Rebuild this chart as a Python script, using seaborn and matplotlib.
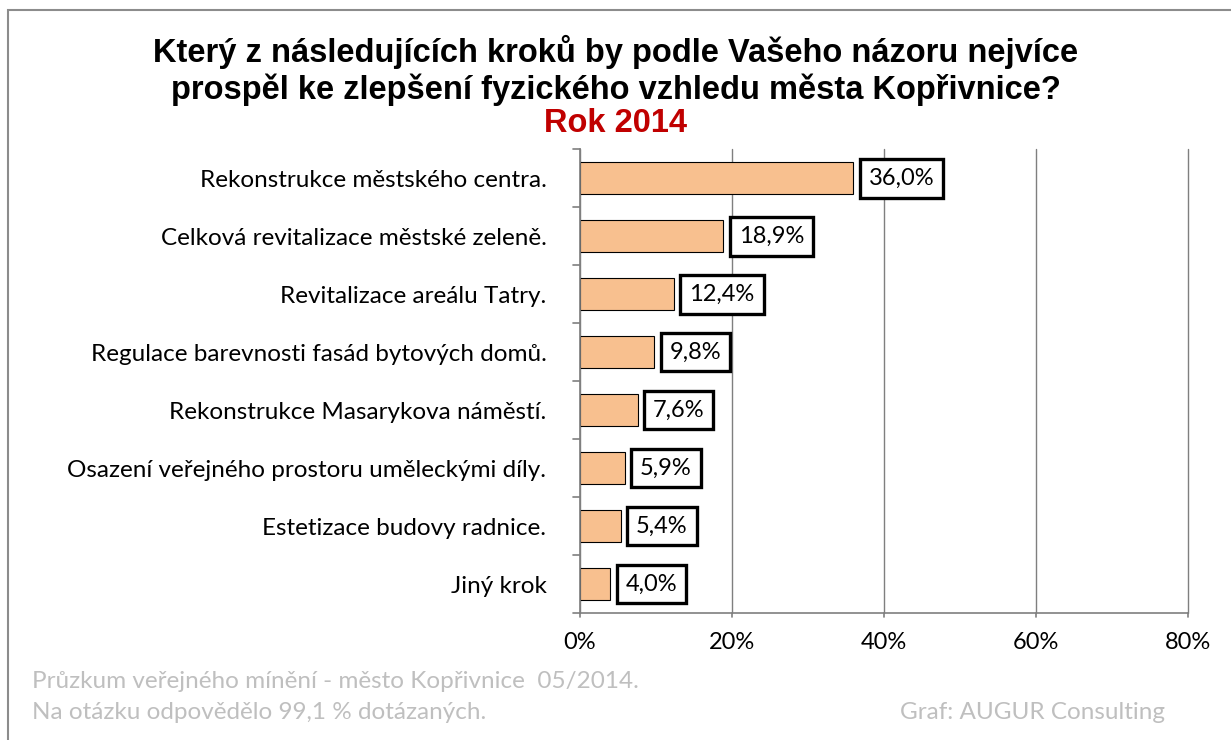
import matplotlib
matplotlib.use("Agg")
import matplotlib.pyplot as plt
import matplotlib.patches as mpatches
import pandas as pd
import seaborn as sns

# data
categories = [
    "Rekonstrukce městského centra.",
    "Celková revitalizace městské zeleně.",
    "Revitalizace areálu Tatry.",
    "Regulace barevnosti fasád bytových domů.",
    "Rekonstrukce Masarykova náměstí.",
    "Osazení veřejného prostoru uměleckými díly.",
    "Estetizace budovy radnice.",
    "Jiný krok",
]
values = [36.0, 18.9, 12.4, 9.8, 7.6, 5.9, 5.4, 4.0]
xticks = [0, 20, 40, 60, 80]

df = pd.DataFrame({"krok": categories, "podil": values})

sns.set_style("white")
plt.rcParams["font.family"] = ["Lato", "DejaVu Sans"]
plt.rcParams["text.color"] = "black"
plt.rcParams["xtick.color"] = "black"
plt.rcParams["ytick.color"] = "black"

fig = plt.figure(figsize=(12.31, 7.40), dpi=100)
ax = fig.add_axes([0.471, 0.1716, 0.494, 0.627])

sns.barplot(data=df, x="podil", y="krok", color="#F8C08F", width=0.54,
            edgecolor="black", linewidth=0.8, saturation=1, ax=ax)

ax.set_xlim(0, 80)
ax.set_ylim(len(categories) - 0.5, -0.5)
ax.set_xticks(xticks)
ax.set_xticklabels([f"{t}%" for t in xticks], fontsize=17)
ax.set_xlabel("")
ax.set_ylabel("")
ax.tick_params(axis="y", length=0, labelsize=17.5, pad=24)
ax.tick_params(axis="x", length=0, pad=14)
ax.xaxis.grid(True, color="#7F7F7F", linewidth=1)
for gl in ax.get_xgridlines():
    gl.set_clip_on(False)
ax.set_axisbelow(True)
for s in ["top", "right"]:
    ax.spines[s].set_visible(False)
for s in ["left", "bottom"]:
    ax.spines[s].set_color("#7F7F7F")
    ax.spines[s].set_linewidth(1.2)

# category separator ticks on y axis and small ticks below x axis
for i in range(len(categories) + 1):
    ax.plot([-0.9, 0], [i - 0.5, i - 0.5], color="#7F7F7F", lw=1.2, clip_on=False)
for t in xticks:
    ax.plot([t, t], [len(categories) - 0.5, len(categories) - 0.5 + 0.07],
            color="#7F7F7F", lw=1.2, clip_on=False)

for i, v in enumerate(values):
    ax.annotate(f"{v:.1f}%".replace(".", ","), (v, i), xytext=(11, 0),
                textcoords="offset points", va="center", ha="left", fontsize=17,
                bbox=dict(boxstyle="square,pad=0.38", fc="white", ec="black", lw=2.4))

fig.text(0.5, 0.930, "Který z následujících kroků by podle Vašeho názoru nejvíce",
         ha="center", va="center", fontsize=23.5, fontweight="bold",
         family="Liberation Sans")
fig.text(0.5, 0.879, "prospěl ke zlepšení fyzického vzhledu města Kopřivnice?",
         ha="center", va="center", fontsize=23.5, fontweight="bold",
         family="Liberation Sans")
fig.text(0.5, 0.833, "Rok 2014", ha="center", va="center", fontsize=23.5,
         fontweight="bold", color="#C00000", family="Liberation Sans")

grey = "#BFBFBF"
fig.text(0.026, 0.079, "Průzkum veřejného mínění - město Kopřivnice  05/2014.",
         fontsize=17.5, color=grey, va="center")
fig.text(0.026, 0.037, "Na otázku odpovědělo 99,1 % dotázaných.",
         fontsize=17.5, color=grey, va="center")
fig.text(0.731, 0.037, "Graf: AUGUR Consulting", fontsize=17.5, color=grey,
         va="center")

# outer frame
fig.patches.append(mpatches.Rectangle((0.0065, -0.05), 1.2, 1.036,
                                      transform=fig.transFigure, fill=False,
                                      ec="#8C8C8C", lw=1.5))

fig.savefig("out.png", dpi=100)
